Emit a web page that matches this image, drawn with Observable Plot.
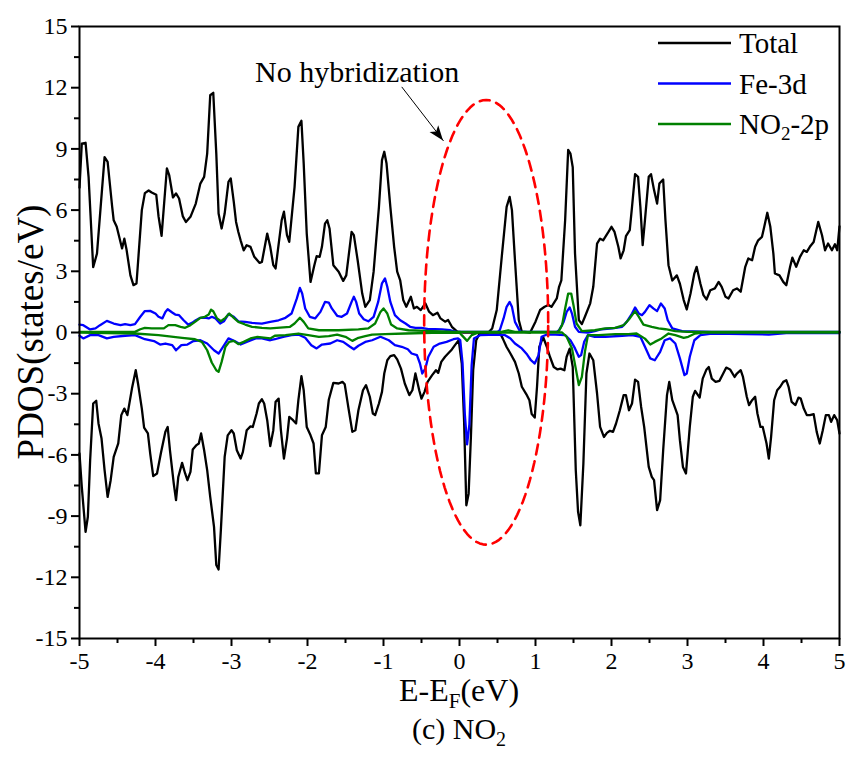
<!DOCTYPE html>
<html><head><meta charset="utf-8">
<script src="https://cdn.jsdelivr.net/npm/d3@7"></script>
<script src="https://cdn.jsdelivr.net/npm/@observablehq/plot@0.6"></script>
<style>body{margin:0;background:#fff}#chart svg{display:block}#chart svg text{font-family:"Liberation Serif","Times New Roman",serif}</style>
</head><body><div id="chart"></div>
<script>
// ---- data (E - E_F in eV, PDOS in states/eV) ----
const totalUp = [[-5.00,7.1],[-4.97,9.26],[-4.92,9.3],[-4.88,7.6],[-4.82,3.2],[-4.77,3.87],[-4.67,8.6],[-4.63,8.37],[-4.57,6.16],[-4.55,5.5],[-4.51,5.18],[-4.44,4.12],[-4.41,4.6],[-4.38,4.04],[-4.33,2.8],[-4.29,2.32],[-4.25,2.4],[-4.18,6.0],[-4.14,6.83],[-4.09,6.96],[-4.05,6.86],[-3.99,6.75],[-3.96,5.69],[-3.92,4.74],[-3.85,8.05],[-3.82,7.72],[-3.77,6.62],[-3.73,6.82],[-3.69,6.57],[-3.64,5.69],[-3.60,5.42],[-3.54,5.67],[-3.47,6.32],[-3.41,7.3],[-3.36,7.63],[-3.32,8.77],[-3.28,11.63],[-3.24,11.75],[-3.20,8.77],[-3.17,5.83],[-3.13,5.1],[-3.09,5.83],[-3.04,7.38],[-3.01,7.55],[-2.97,6.4],[-2.94,5.42],[-2.91,4.93],[-2.88,4.52],[-2.84,4.03],[-2.80,4.28],[-2.75,4.2],[-2.70,3.71],[-2.63,3.41],[-2.60,3.46],[-2.53,4.85],[-2.49,4.2],[-2.45,3.3],[-2.42,3.14],[-2.34,5.5],[-2.31,5.92],[-2.27,4.77],[-2.24,4.44],[-2.17,7.14],[-2.12,10.08],[-2.08,10.38],[-2.05,8.28],[-2.01,4.85],[-1.96,2.48],[-1.91,3.3],[-1.88,3.74],[-1.84,3.71],[-1.81,4.2],[-1.77,5.34],[-1.74,5.5],[-1.71,5.1],[-1.66,3.3],[-1.59,2.98],[-1.53,2.53],[-1.49,2.8],[-1.42,4.93],[-1.39,4.77],[-1.34,3.54],[-1.28,1.91],[-1.24,1.26],[-1.18,1.59],[-1.13,2.98],[-1.06,6.16],[-1.02,8.45],[-0.99,8.86],[-0.96,8.28],[-0.91,6.16],[-0.86,4.2],[-0.82,2.98],[-0.78,2.55],[-0.74,1.59],[-0.70,1.26],[-0.64,1.75],[-0.60,1.18],[-0.56,1.26],[-0.51,1.1],[-0.45,1.43],[-0.40,1.02],[-0.35,0.85],[-0.29,0.97],[-0.25,0.69],[-0.19,0.53],[-0.15,0.61],[-0.10,0.28],[-0.03,0.04],[0.05,0],[0.20,0],[0.38,0],[0.43,0.2],[0.49,1.1],[0.56,3.87],[0.62,6.16],[0.66,6.65],[0.69,6.0],[0.73,3.54],[0.78,0.61],[0.82,0.04],[0.93,0],[1.00,0.53],[1.06,1.1],[1.12,1.26],[1.17,1.35],[1.21,1.26],[1.28,1.67],[1.31,2.24],[1.34,2.55],[1.39,5.5],[1.43,8.95],[1.46,8.77],[1.49,8.1],[1.52,3.87],[1.57,0.61],[1.61,0.41],[1.65,0.77],[1.72,1.43],[1.76,2.24],[1.81,4.36],[1.85,4.6],[1.89,4.52],[1.96,4.93],[2.00,5.18],[2.04,4.93],[2.09,4.2],[2.12,3.63],[2.16,4.03],[2.19,4.72],[2.24,5.02],[2.27,6.16],[2.31,7.76],[2.35,7.63],[2.38,6.16],[2.41,4.28],[2.44,5.5],[2.49,7.63],[2.52,7.76],[2.56,6.98],[2.60,6.32],[2.63,7.3],[2.68,7.5],[2.71,5.5],[2.75,3.3],[2.80,2.55],[2.86,2.8],[2.90,2.39],[2.95,1.59],[2.99,1.13],[3.04,1.91],[3.09,2.89],[3.12,3.22],[3.17,2.39],[3.21,1.83],[3.25,1.62],[3.30,2.07],[3.36,2.16],[3.41,2.48],[3.45,2.24],[3.50,1.75],[3.54,1.67],[3.60,2.07],[3.65,2.16],[3.70,2.0],[3.76,3.22],[3.80,3.63],[3.85,3.54],[3.89,4.2],[3.93,4.52],[3.98,4.69],[4.01,5.18],[4.05,5.87],[4.09,5.18],[4.13,3.87],[4.15,2.89],[4.21,2.8],[4.26,2.48],[4.30,2.32],[4.35,3.22],[4.38,3.67],[4.43,3.22],[4.48,3.71],[4.53,4.03],[4.57,3.95],[4.61,4.2],[4.66,4.44],[4.72,5.42],[4.77,4.77],[4.81,4.03],[4.85,4.36],[4.90,4.03],[4.94,4.33],[4.97,4.03],[5.00,5.2]];

const totalDown = [[-5.00,-5.93],[-4.97,-7.57],[-4.92,-9.77],[-4.89,-9.03],[-4.86,-6.26],[-4.82,-3.48],[-4.78,-3.35],[-4.75,-4.46],[-4.71,-5.2],[-4.67,-6.75],[-4.63,-8.06],[-4.59,-7.24],[-4.55,-6.1],[-4.49,-5.44],[-4.45,-4.05],[-4.41,-3.73],[-4.37,-4.05],[-4.31,-2.75],[-4.26,-1.85],[-4.23,-2.5],[-4.18,-3.73],[-4.15,-4.66],[-4.10,-4.95],[-4.07,-5.93],[-4.03,-7.04],[-3.98,-6.91],[-3.93,-5.93],[-3.87,-4.87],[-3.84,-4.63],[-3.81,-5.77],[-3.76,-7.4],[-3.73,-8.22],[-3.70,-7.08],[-3.65,-6.39],[-3.61,-6.91],[-3.58,-7.24],[-3.54,-6.83],[-3.51,-5.74],[-3.46,-5.52],[-3.43,-5.44],[-3.40,-4.95],[-3.36,-5.77],[-3.32,-6.75],[-3.28,-8.06],[-3.23,-9.53],[-3.20,-11.4],[-3.17,-11.62],[-3.14,-9.69],[-3.09,-6.1],[-3.05,-5.04],[-3.00,-4.79],[-2.97,-4.95],[-2.93,-5.77],[-2.88,-6.18],[-2.85,-5.85],[-2.80,-4.79],[-2.75,-4.6],[-2.72,-4.63],[-2.67,-3.97],[-2.64,-3.48],[-2.60,-3.27],[-2.57,-3.48],[-2.53,-4.3],[-2.49,-5.57],[-2.45,-4.79],[-2.42,-3.4],[-2.38,-3.24],[-2.35,-4.79],[-2.31,-6.18],[-2.27,-5.2],[-2.24,-4.14],[-2.19,-4.3],[-2.15,-4.46],[-2.12,-3.32],[-2.08,-2.14],[-2.05,-2.83],[-2.01,-4.63],[-1.96,-5.04],[-1.92,-5.44],[-1.89,-6.91],[-1.85,-6.91],[-1.81,-5.04],[-1.76,-4.63],[-1.72,-3.3],[-1.66,-2.47],[-1.59,-2.5],[-1.54,-2.42],[-1.51,-2.54],[-1.46,-3.73],[-1.41,-4.87],[-1.37,-4.79],[-1.33,-3.81],[-1.27,-2.83],[-1.23,-2.58],[-1.18,-3.15],[-1.14,-3.97],[-1.11,-4.05],[-1.06,-3.48],[-1.02,-2.91],[-0.99,-2.01],[-0.95,-1.36],[-0.91,-1.16],[-0.86,-1.11],[-0.82,-1.32],[-0.77,-1.77],[-0.72,-2.5],[-0.66,-3.07],[-0.62,-2.83],[-0.58,-2.01],[-0.53,-2.83],[-0.50,-3.24],[-0.46,-2.91],[-0.42,-2.42],[-0.36,-2.09],[-0.31,-1.85],[-0.28,-1.98],[-0.24,-1.44],[-0.19,-1.19],[-0.15,-1.03],[-0.10,-0.83],[-0.06,-0.62],[-0.01,-0.38],[0.03,-1.52],[0.06,-4.3],[0.09,-8.47],[0.12,-7.9],[0.15,-5.12],[0.18,-1.85],[0.22,-0.38],[0.27,0],[0.53,0],[0.57,-0.3],[0.62,-0.71],[0.67,-1.03],[0.73,-1.44],[0.78,-2.01],[0.82,-2.66],[0.88,-3.03],[0.92,-3.32],[0.95,-4.0],[0.99,-4.17],[1.02,-2.66],[1.05,-0.71],[1.10,-0.22],[1.15,-0.71],[1.19,-1.19],[1.24,-1.69],[1.29,-1.81],[1.33,-1.77],[1.38,-1.85],[1.41,-1.19],[1.45,-0.79],[1.49,-1.69],[1.53,-6.75],[1.56,-8.79],[1.59,-9.45],[1.63,-6.42],[1.67,-2.01],[1.71,-1.03],[1.76,-1.36],[1.81,-2.99],[1.85,-4.63],[1.90,-5.12],[1.94,-4.92],[1.98,-4.82],[2.02,-4.87],[2.06,-4.46],[2.11,-3.81],[2.16,-3.07],[2.19,-3.07],[2.23,-3.81],[2.27,-3.48],[2.31,-2.31],[2.35,-2.42],[2.39,-3.65],[2.43,-4.63],[2.49,-6.59],[2.53,-7.08],[2.56,-7.24],[2.60,-8.71],[2.64,-8.22],[2.68,-5.77],[2.73,-3.07],[2.76,-2.42],[2.80,-3.32],[2.84,-3.73],[2.87,-4.05],[2.90,-5.28],[2.94,-6.59],[2.98,-6.91],[3.03,-4.63],[3.07,-3.15],[3.10,-2.86],[3.16,-3.19],[3.20,-2.26],[3.25,-1.81],[3.28,-1.69],[3.32,-2.26],[3.37,-2.42],[3.42,-2.37],[3.47,-2.01],[3.51,-1.72],[3.56,-1.81],[3.62,-2.18],[3.65,-2.01],[3.70,-1.85],[3.73,-2.18],[3.78,-3.15],[3.81,-3.56],[3.85,-3.32],[3.89,-3.15],[3.92,-3.97],[3.96,-4.63],[3.99,-4.63],[4.04,-5.44],[4.07,-6.18],[4.10,-5.12],[4.14,-3.32],[4.18,-2.83],[4.22,-2.66],[4.26,-2.42],[4.30,-2.34],[4.33,-2.66],[4.37,-3.4],[4.42,-3.56],[4.46,-3.19],[4.49,-3.24],[4.53,-3.73],[4.57,-4.05],[4.61,-4.05],[4.66,-4.0],[4.70,-4.87],[4.74,-5.44],[4.78,-4.79],[4.82,-4.05],[4.86,-4.05],[4.89,-4.38],[4.93,-4.05],[4.97,-4.3],[5.00,-4.95]];

const fe3dUp = [[-5.00,0.39],[-4.95,0.36],[-4.86,0.15],[-4.79,0.2],[-4.73,0.36],[-4.64,0.57],[-4.55,0.44],[-4.46,0.36],[-4.40,0.41],[-4.33,0.36],[-4.27,0.41],[-4.20,0.77],[-4.14,1.05],[-4.07,1.06],[-4.00,0.93],[-3.96,0.77],[-3.91,0.69],[-3.87,1.01],[-3.84,1.14],[-3.78,0.98],[-3.74,0.88],[-3.69,0.85],[-3.63,0.6],[-3.57,0.39],[-3.52,0.47],[-3.47,0.6],[-3.41,0.72],[-3.35,0.73],[-3.30,0.69],[-3.26,0.77],[-3.21,0.69],[-3.15,0.44],[-3.10,0.55],[-3.04,0.9],[-2.97,0.77],[-2.91,0.55],[-2.82,0.52],[-2.73,0.47],[-2.60,0.44],[-2.49,0.52],[-2.38,0.6],[-2.29,0.72],[-2.21,0.93],[-2.14,1.67],[-2.10,2.19],[-2.07,1.91],[-2.03,1.18],[-1.97,0.77],[-1.90,0.69],[-1.83,1.01],[-1.77,1.5],[-1.72,1.47],[-1.68,1.18],[-1.61,0.82],[-1.55,0.77],[-1.48,0.93],[-1.42,1.5],[-1.39,1.75],[-1.36,1.5],[-1.32,0.93],[-1.26,0.65],[-1.20,0.55],[-1.13,0.77],[-1.07,1.5],[-1.02,2.41],[-0.98,2.65],[-0.95,2.24],[-0.91,1.5],[-0.85,0.85],[-0.78,0.6],[-0.71,0.44],[-0.65,0.28],[-0.58,0.23],[-0.50,0.23],[-0.41,0.16],[-0.32,0.16],[-0.23,0.15],[-0.12,0.11],[-0.04,0.03],[0.50,0.03],[0.53,0.11],[0.58,0.69],[0.62,1.26],[0.66,1.5],[0.69,1.26],[0.73,0.52],[0.80,0.03],[1.28,0.03],[1.31,0.11],[1.37,0.52],[1.41,1.01],[1.45,1.23],[1.48,0.93],[1.52,0.28],[1.57,0.03],[1.69,0],[1.78,0.07],[1.87,0.16],[2.01,0.2],[2.14,0.28],[2.20,0.52],[2.27,0.93],[2.31,1.23],[2.36,0.93],[2.40,0.85],[2.44,1.01],[2.50,1.34],[2.55,1.18],[2.60,1.05],[2.65,1.42],[2.70,1.18],[2.74,0.6],[2.80,0.2],[2.93,0.07],[3.32,0.03],[5.00,0.03]];

const fe3dDown = [[-5.00,-0.16],[-4.95,-0.29],[-4.86,-0.13],[-4.75,-0.13],[-4.64,-0.29],[-4.55,-0.21],[-4.40,-0.16],[-4.27,-0.13],[-4.14,-0.33],[-4.02,-0.42],[-3.94,-0.59],[-3.87,-0.54],[-3.78,-0.62],[-3.73,-0.87],[-3.66,-0.62],[-3.58,-0.59],[-3.50,-0.42],[-3.41,-0.38],[-3.32,-0.54],[-3.23,-0.87],[-3.17,-1.03],[-3.12,-0.75],[-3.04,-0.29],[-2.96,-0.42],[-2.88,-0.59],[-2.80,-0.46],[-2.68,-0.29],[-2.60,-0.29],[-2.49,-0.38],[-2.43,-0.33],[-2.32,-0.21],[-2.21,-0.13],[-2.12,-0.1],[-2.03,-0.26],[-1.95,-0.62],[-1.88,-0.78],[-1.81,-0.59],[-1.70,-0.54],[-1.61,-0.38],[-1.53,-0.46],[-1.44,-0.7],[-1.39,-0.82],[-1.33,-0.65],[-1.24,-0.46],[-1.15,-0.38],[-1.04,-0.21],[-0.93,-0.38],[-0.85,-0.62],[-0.76,-0.7],[-0.68,-0.82],[-0.63,-1.03],[-0.56,-1.11],[-0.52,-1.52],[-0.49,-2.01],[-0.45,-1.77],[-0.41,-1.19],[-0.34,-0.7],[-0.26,-0.54],[-0.17,-0.46],[-0.08,-0.33],[-0.02,-0.29],[0.01,-0.38],[0.04,-1.5],[0.07,-4.0],[0.10,-5.48],[0.13,-4.5],[0.16,-1.6],[0.19,-0.3],[0.27,-0.13],[0.51,-0.1],[0.60,-0.13],[0.67,-0.29],[0.73,-0.54],[0.82,-0.78],[0.89,-1.08],[0.94,-1.36],[0.99,-1.52],[1.04,-1.11],[1.08,-0.21],[1.15,-0.1],[1.26,-0.1],[1.39,-0.13],[1.46,-0.38],[1.52,-0.78],[1.57,-1.19],[1.60,-1.11],[1.64,-0.46],[1.69,-0.13],[1.78,-0.21],[1.92,-0.21],[2.14,-0.16],[2.27,-0.13],[2.38,-0.21],[2.44,-0.7],[2.51,-1.27],[2.57,-1.36],[2.64,-0.95],[2.70,-0.38],[2.77,-0.29],[2.84,-0.54],[2.90,-1.27],[2.96,-2.09],[2.99,-2.01],[3.03,-1.19],[3.09,-0.38],[3.17,-0.13],[3.32,-0.05],[3.76,-0.08],[4.07,-0.1],[4.30,-0.03],[5.00,-0.03]];

const no2Up = [[-5.00,0.03],[-4.27,0.03],[-4.20,0.16],[-4.14,0.23],[-4.05,0.2],[-3.96,0.2],[-3.89,0.2],[-3.83,0.36],[-3.74,0.36],[-3.67,0.28],[-3.61,0.23],[-3.54,0.36],[-3.48,0.52],[-3.41,0.72],[-3.35,0.77],[-3.30,0.88],[-3.27,1.12],[-3.24,1.04],[-3.19,0.69],[-3.14,0.55],[-3.08,0.72],[-3.03,0.93],[-2.97,0.72],[-2.91,0.52],[-2.82,0.39],[-2.73,0.28],[-2.60,0.23],[-2.49,0.2],[-2.23,0.28],[-2.17,0.44],[-2.10,0.72],[-2.05,0.52],[-1.99,0.2],[-1.85,0.11],[-1.59,0.11],[-1.33,0.15],[-1.20,0.2],[-1.11,0.44],[-1.04,1.01],[-1.00,1.18],[-0.95,0.93],[-0.90,0.39],[-0.82,0.2],[-0.67,0.11],[-0.36,0.07],[-0.04,0.03],[0.55,0.03],[0.64,0.11],[0.73,0.03],[1.30,0.03],[1.35,0.36],[1.39,1.18],[1.43,1.91],[1.47,1.91],[1.50,1.34],[1.54,0.44],[1.61,0.07],[1.78,0.11],[1.92,0.2],[2.05,0.23],[2.16,0.36],[2.24,0.69],[2.31,1.05],[2.36,0.77],[2.42,0.39],[2.53,0.28],[2.62,0.2],[2.71,0.16],[2.84,0.07],[3.00,0.03],[5.00,0.03]];

const no2Down = [[-5.00,0],[-4.27,-0.05],[-3.96,-0.13],[-3.65,-0.26],[-3.48,-0.33],[-3.39,-0.46],[-3.32,-0.87],[-3.26,-1.47],[-3.20,-1.85],[-3.17,-1.93],[-3.13,-1.44],[-3.08,-0.7],[-3.03,-0.46],[-2.97,-0.41],[-2.91,-0.57],[-2.84,-0.46],[-2.75,-0.29],[-2.66,-0.21],[-2.49,-0.29],[-2.43,-0.16],[-2.29,-0.13],[-2.12,-0.05],[-1.99,-0.13],[-1.85,-0.21],[-1.72,-0.18],[-1.61,-0.1],[-1.50,-0.21],[-1.41,-0.41],[-1.33,-0.26],[-1.24,-0.18],[-1.15,-0.1],[-0.98,-0.08],[-0.71,-0.05],[-0.36,-0.02],[0.00,0],[0.03,-0.13],[0.10,-0.41],[0.16,-0.13],[0.25,0],[1.35,0],[1.41,-0.21],[1.48,-0.78],[1.53,-1.77],[1.57,-2.58],[1.61,-2.17],[1.65,-0.95],[1.69,-0.13],[1.83,-0.13],[2.05,-0.08],[2.22,-0.08],[2.33,-0.05],[2.44,-0.3],[2.51,-0.59],[2.57,-0.46],[2.66,-0.29],[2.75,-0.05],[2.84,-0.13],[2.95,-0.26],[3.01,-0.21],[3.10,-0.05],[3.20,0],[5.00,0]];

// ---- ticks / labels ----
const xMajorTicks = [-5,-4,-3,-2,-1,0,1,2,3,4,5];
const xMinorTicks = [-4.5,-3.5,-2.5,-1.5,-0.5,0.5,1.5,2.5,3.5,4.5];
const yMajorTicks = [-15,-12,-9,-6,-3,0,3,6,9,12,15];
const yMinorTicks = [-13.5,-10.5,-7.5,-4.5,-1.5,1.5,4.5,7.5,10.5,13.5];
const seriesNames = ["Total","Fe-3d","NO2-2p"];
const seriesColors = ["#000000","#0000ff","#008000"];

// ---- annotation ----
const noteText = "No hybridization";
const notePos = [-2.69, 12.75];
const arrowFrom = [-0.76, 12.04];
const arrowTo = [-0.21, 9.39];
const ellipseCenter = [0.351, 0.5];
const ellipseRadii = [0.816, 10.9];

const ellipsePts = d3.range(0, 121).map(i => {
  const t = i / 120 * 2 * Math.PI;
  return [ellipseCenter[0] + ellipseRadii[0] * Math.cos(t), ellipseCenter[1] + ellipseRadii[1] * Math.sin(t)];
});

const FONT = "Liberation Serif";
const lineOpts = (c) => ({x: d => d[0], y: d => d[1], stroke: c, strokeWidth: 2.3, strokeLinejoin: "round"});

const plot = Plot.plot({
  width: 846, height: 758,
  marginLeft: 79, marginRight: 7, marginTop: 26, marginBottom: 120,
  x: {domain: [-5, 5], label: null},
  y: {domain: [-15, 15], label: null},
  style: "font-family: 'Liberation Serif', serif; color: #000; background: #fff; overflow: visible;",
  marks: [
    Plot.line(totalUp, lineOpts(seriesColors[0])),
    Plot.line(totalDown, lineOpts(seriesColors[0])),
    Plot.line(fe3dUp, lineOpts(seriesColors[1])),
    Plot.line(fe3dDown, lineOpts(seriesColors[1])),
    Plot.line(no2Up, lineOpts(seriesColors[2])),
    Plot.line(no2Down, lineOpts(seriesColors[2])),
    Plot.line(ellipsePts, {x: d => d[0], y: d => d[1], stroke: "#ff0000", strokeWidth: 2.6, strokeDasharray: "10,7"}),
    Plot.link([0], {x1: () => arrowFrom[0], y1: () => arrowFrom[1], x2: () => arrowTo[0], y2: () => arrowTo[1], stroke: "#000", strokeWidth: 1}),
    Plot.text([noteText], {x: () => notePos[0], y: () => notePos[1], text: d => d, textAnchor: "start", fontSize: 30, fontFamily: FONT, fill: "#000"}),
    Plot.axisX(xMajorTicks, {tickSize: 8, tickPadding: 5, fontSize: 24, fontFamily: FONT, tickFormat: d => String(d), strokeWidth: 2, label: null}),
    Plot.axisX(xMinorTicks, {tickSize: 5, tickFormat: () => "", strokeWidth: 2, label: null}),
    Plot.axisY(yMajorTicks, {tickSize: 8, tickPadding: 4, fontSize: 24, fontFamily: FONT, tickFormat: d => String(d), strokeWidth: 2, label: null}),
    Plot.axisY(yMinorTicks, {tickSize: 5, tickFormat: () => "", strokeWidth: 2, label: null}),
    Plot.frame({stroke: "#000", strokeWidth: 2})
  ]
});

document.getElementById("chart").appendChild(plot);

const svg = d3.select(plot);
const sx = plot.scale("x"), sy = plot.scale("y");

// arrow head
{
  const x1 = sx.apply(arrowFrom[0]), y1 = sy.apply(arrowFrom[1]);
  const x2 = sx.apply(arrowTo[0]), y2 = sy.apply(arrowTo[1]);
  const a = Math.atan2(y2 - y1, x2 - x1), L = 15, W = 5.5;
  const bx = x2 - L * Math.cos(a), by = y2 - L * Math.sin(a);
  const px = -Math.sin(a), py = Math.cos(a);
  svg.append("path")
    .attr("d", `M${x2},${y2}L${bx + W*px},${by + W*py}L${bx + (L*0.25)*Math.cos(a)},${by + (L*0.25)*Math.sin(a)}L${bx - W*px},${by - W*py}Z`)
    .attr("fill", "#000");
}

// axis titles
const midX = (sx.range[0] + sx.range[1]) / 2;
const xt = svg.append("text").attr("x", midX).attr("y", 701).attr("text-anchor", "middle")
  .attr("font-family", FONT).attr("font-size", 32).attr("fill", "#000");
xt.append("tspan").text("E-E");
xt.append("tspan").attr("font-size", 21).attr("dy", 7).text("F");
xt.append("tspan").attr("dy", -7).text("(eV)");

const cap = svg.append("text").attr("x", midX).attr("y", 739).attr("text-anchor", "middle")
  .attr("font-family", FONT).attr("font-size", 30).attr("fill", "#000");
cap.append("tspan").text("(c) NO");
cap.append("tspan").attr("font-size", 20).attr("dy", 7).text("2");

svg.append("text").attr("transform", `translate(43,${(sy.range[0] + sy.range[1]) / 2}) rotate(-90)`)
  .attr("text-anchor", "middle").attr("font-family", FONT).attr("font-size", 37).attr("fill", "#000")
  .text("PDOS(states/eV)");

// legend
const lg = svg.append("g");
seriesNames.forEach((name, i) => {
  const y = 43 + i * 40.5;
  lg.append("line").attr("x1", 658).attr("x2", 731).attr("y1", y).attr("y2", y)
    .attr("stroke", seriesColors[i]).attr("stroke-width", 2.3);
  const t = lg.append("text").attr("x", 739).attr("y", y + 10).attr("text-anchor", "start")
    .attr("font-family", FONT).attr("font-size", 29).attr("fill", "#000");
  if (name === "NO2-2p") {
    t.append("tspan").text("NO");
    t.append("tspan").attr("font-size", 19).attr("dy", 6).text("2");
    t.append("tspan").attr("dy", -6).text("-2p");
  } else t.text(name);
});
</script>
</body></html>
